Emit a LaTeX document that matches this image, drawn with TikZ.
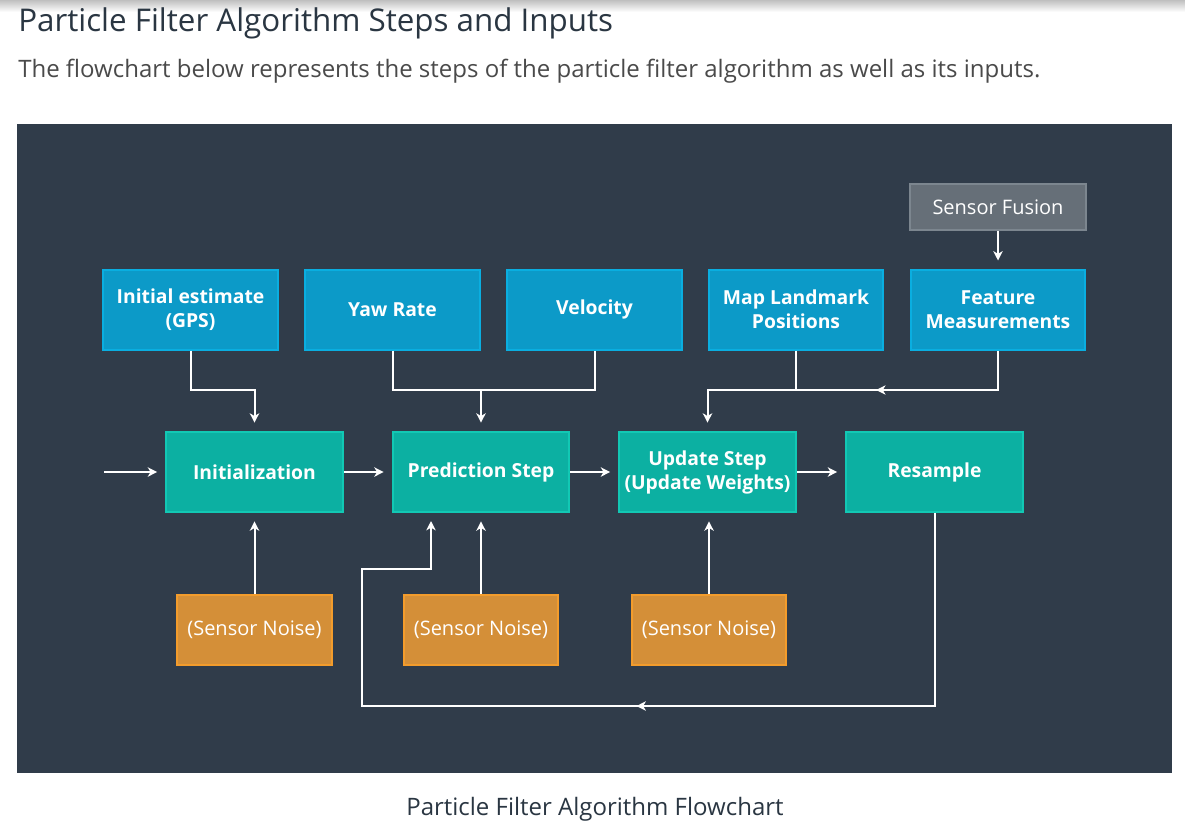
\documentclass[tikz,border=0pt]{standalone}
\usepackage{fontspec}
\setmainfont{Open Sans}
\usetikzlibrary{arrows.meta,decorations.markings}
\definecolor{panel}{HTML}{303C4A}
\definecolor{bluefill}{HTML}{0C9AC8}
\definecolor{blueline}{HTML}{0AAEE0}
\definecolor{tealfill}{HTML}{0CB0A2}
\definecolor{tealline}{HTML}{12C8B4}
\definecolor{orfill}{HTML}{D48F38}
\definecolor{orline}{HTML}{F39C2C}
\definecolor{grfill}{HTML}{666F78}
\definecolor{grline}{HTML}{7C868F}
\definecolor{titlecol}{HTML}{2A3642}
\definecolor{subcol}{HTML}{4A4A4A}
\tikzset{
  box/.style={draw, line width=1.5pt, text=white, align=center, inner sep=0pt, font=\bfseries\fontsize{14.5}{18}\selectfont},
  inputbox/.style={box, fill=bluefill, draw=blueline, minimum width=131pt, minimum height=60pt},
  stepbox/.style={box, fill=tealfill, draw=tealline, minimum width=132.5pt, minimum height=60.5pt},
  noisebox/.style={box, fill=orfill, draw=orline, minimum width=116pt, minimum height=52.5pt, font=\fontsize{15}{18}\selectfont},
  fusionbox/.style={box, fill=grfill, draw=grline, minimum width=131.5pt, minimum height=34pt, font=\fontsize{15}{18}\selectfont},
  conn/.style={draw=white, line width=1.5pt},
  arr/.style={conn, -{Stealth[length=7pt,width=7pt,inset=2pt]}, shorten >=6pt},
  midarrow/.style={conn, postaction={decorate}, decoration={markings, mark=at position #1 with {\arrow{Stealth[length=7pt,width=7pt,inset=2pt]}}}},
}
\begin{document}
\begin{tikzpicture}[x=0.75pt,y=-0.75pt]
\useasboundingbox (0,0) rectangle (1185,829);
\fill[white] (0,0) rectangle (1185,829);
\shade[top color=black!25, bottom color=white] (0,0) rectangle (1185,12);
\node[anchor=base west, text=titlecol, font=\fontsize{23.5}{28}\selectfont, inner sep=0pt] (title) at (18,31) {Particle Filter Algorithm Steps and Inputs};
\node[anchor=base west, text=subcol, font=\fontsize{18}{22}\selectfont, inner sep=0pt] (sub) at (18,77) {The flowchart below represents the steps of the particle filter algorithm as well as its inputs.};
\fill[panel] (17,124) rectangle (1172,773);
\node[anchor=base, text=titlecol, font=\fontsize{18}{22}\selectfont, inner sep=0pt] (cap) at (595,815) {Particle Filter Algorithm Flowchart};

% boxes
\node[fusionbox] (sf) at (998,207) {Sensor Fusion};
\node[inputbox] (ie) at (190.5,309.5) {Initial estimate\\(GPS)};
\node[inputbox] (yaw) at (392.5,309.5) {Yaw Rate};
\node[inputbox] (vel) at (594.5,309.5) {Velocity};
\node[inputbox] (map) at (796,309.5) {Map Landmark\\Positions};
\node[inputbox] (feat) at (998,309.5) {Feature\\Measurements};
\node[stepbox] (init) at (254.5,472) {Initialization};
\node[stepbox] (pred) at (481,472) {Prediction Step};
\node[stepbox] (upd) at (707.5,472) {Update Step\\(Update Weights)};
\node[stepbox] (res) at (934.5,472) {Resample};
\node[noisebox] (n1) at (254.5,629.5) {(Sensor Noise)};
\node[noisebox] (n2) at (481,629.5) {(Sensor Noise)};
\node[noisebox] (n3) at (709,629.5) {(Sensor Noise)};

\coordinate (bus) at (0,390);
\coordinate (start) at (104,472);
\coordinate (loopR) at (0,706);
\coordinate (loopL) at (362,706);
\coordinate (stepL) at (362,569);
\coordinate (stepR) at (431,569);
\coordinate (predin) at (431,513);

% connectors
\draw[arr] (sf.south) -- (feat.north);
\draw[arr] (ie.south) -- (ie.south |- bus) -- (init.north |- bus) -- (init.north);
\draw[conn] (yaw.south) -- (yaw.south |- bus) -- (vel.south |- bus) -- (vel.south);
\draw[arr] (pred.north |- bus) -- (pred.north);
\draw[conn] (map.south) -- (map.south |- bus);
\draw[arr, midarrow=121pt] (feat.south) -- (feat.south |- bus) -- (upd.north |- bus) -- (upd.north);
\draw[arr] (start) -- (init.west);
\draw[arr] (init.east) -- (pred.west);
\draw[arr] (pred.east) -- (upd.west);
\draw[arr] (upd.east) -- (res.west);
\draw[arr] (n1.north) -- (init.south);
\draw[arr] (n2.north) -- (pred.south);
\draw[arr] (n3.north) -- (upd.south -| n3.north);
\draw[arr, midarrow=368pt] (res.south) -- (res.south |- loopR) -- (loopL) -- (stepL) -- (stepR) -- (predin);
\end{tikzpicture}
\end{document}
